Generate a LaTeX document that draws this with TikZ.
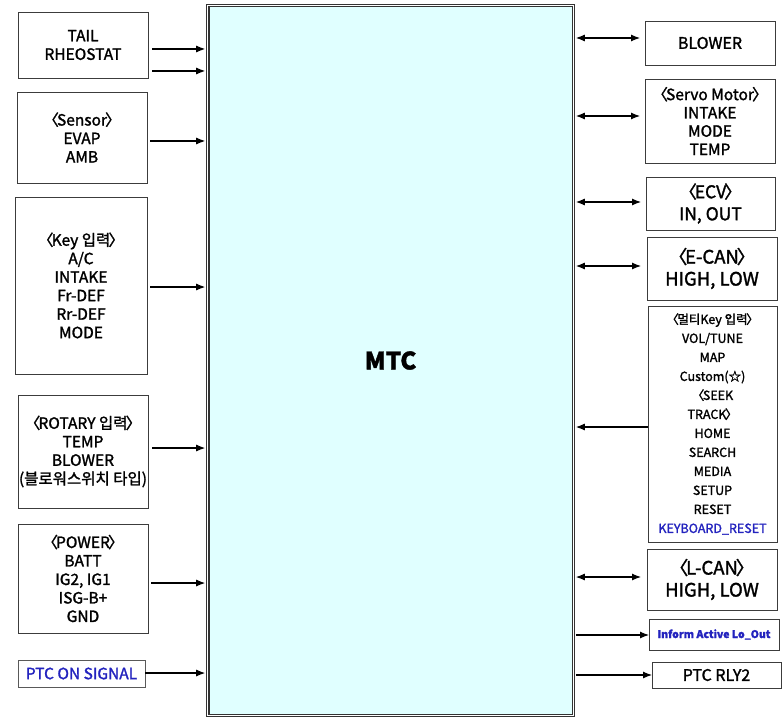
\documentclass[tikz,border=0pt]{standalone}
\usepackage{fontspec}
\setmainfont{Noto Sans CJK KR}[FakeBold=1.6]
\usetikzlibrary{arrows.meta}
\definecolor{mtcfill}{RGB}{224,255,255}
\definecolor{sigblue}{RGB}{35,35,190}
\definecolor{boxline}{RGB}{60,60,60}
\newcommand\lab{〈\kern-0.12em}
\newcommand\rab{\kern-0.12em〉}
\begin{document}
\begin{tikzpicture}[x=1pt,y=-1pt,
  bx/.style={draw=boxline,line width=0.9pt,inner sep=0pt,outer sep=0pt,align=center},
  lt/.style={font=\fontsize{15.5}{18.5}\selectfont},
  arr/.style={line width=1.1pt,-{Latex[length=9pt,width=7pt]}},
  darr/.style={line width=1.1pt,{Latex[length=9pt,width=7pt]}-{Latex[length=9pt,width=7pt]}}]
\useasboundingbox (0,0) rectangle (783,719);
\node[draw=black!80,line width=1.1pt,double=white,double distance=1.3pt,fill=mtcfill,
  minimum width=365.5pt,minimum height=709.5pt,inner sep=0pt,
  font=\fontsize{24}{28}\selectfont\bfseries] (mtc) at (390.5,360.5) {MTC};
% left boxes
\node[bx,lt,minimum width=130pt,minimum height=66pt] (tail) at (83,45) {TAIL\\RHEOSTAT};
\node[bx,lt,minimum width=130pt,minimum height=91pt] (sensor) at (82,137.5) {\lab Sensor\rab\\EVAP\\AMB};
\node[bx,lt,minimum width=132pt,minimum height=177pt] (key) at (81,285.5) {\lab Key 입력\rab\\A/C\\INTAKE\\Fr-DEF\\Rr-DEF\\MODE};
\node[bx,lt,minimum width=130pt,minimum height=113pt] (rotary) at (83,451.5) {\lab ROTARY 입력\rab\\TEMP\\BLOWER\\(블로워스위치 타입)};
\node[bx,lt,minimum width=130pt,minimum height=109pt] (power) at (83,578.5) {\lab POWER\rab\\BATT\\IG2, IG1\\ISG-B+\\GND};
\node[bx,lt,draw=black!65,text=sigblue,minimum width=127pt,minimum height=27pt] (ptcon) at (81.5,673.5) {PTC ON SIGNAL};
% right boxes
\node[bx,font=\fontsize{16}{19}\selectfont,minimum width=130pt,minimum height=44pt] (blower) at (710,43) {BLOWER};
\node[bx,font=\fontsize{15.5}{18.3}\selectfont,minimum width=130pt,minimum height=84pt] (servo) at (710,121) {\lab Servo Motor\rab\\INTAKE\\MODE\\TEMP};
\node[bx,font=\fontsize{17.5}{22}\selectfont,minimum width=129pt,minimum height=53pt] (ecv) at (710.5,203.5) {\lab ECV\rab\\IN, OUT};
\node[bx,font=\fontsize{18.5}{22}\selectfont,minimum width=130pt,minimum height=63pt] (ecan) at (712,268.5) {\lab E-CAN\rab\\HIGH, LOW};
\node[bx,font=\fontsize{12.5}{19}\selectfont,minimum width=129pt,minimum height=236pt] (multi) at (712.5,424) {\lab 멀티Key 입력\rab\\VOL/TUNE\\MAP\\Custom(☆)\\\lab SEEK\\TRACK\rab\\HOME\\SEARCH\\MEDIA\\SETUP\\RESET\\\textcolor{sigblue}{KEYBOARD\_RESET}};
\node[bx,font=\fontsize{18.5}{22}\selectfont,minimum width=130pt,minimum height=61pt] (lcan) at (712,579.5) {\lab L-CAN\rab\\HIGH, LOW};
\node[bx,font=\fontsize{10.5}{12}\selectfont\bfseries,text=sigblue,minimum width=130pt,minimum height=31pt] (inform) at (714,634.5) {Inform Active Lo\_Out};
\node[bx,font=\fontsize{16}{19}\selectfont,minimum width=129pt,minimum height=26pt] (ptcrly) at (716.5,675) {PTC RLY2};
% left arrows
\draw[arr,shorten <=4pt,shorten >=2pt] (tail.east |- 0,49) -- (mtc.west |- 0,49);
\draw[arr,shorten <=4pt,shorten >=2pt] (tail.east |- 0,71) -- (mtc.west |- 0,71);
\draw[arr,shorten <=3pt,shorten >=2pt] (sensor.east |- 0,141) -- (mtc.west |- 0,141);
\draw[arr,shorten <=3pt,shorten >=2pt] (key.east |- 0,287) -- (mtc.west |- 0,287);
\draw[arr,shorten <=4pt,shorten >=2pt] (rotary.east |- 0,448) -- (mtc.west |- 0,448);
\draw[arr,shorten <=3pt,shorten >=2pt] (power.east |- 0,583) -- (mtc.west |- 0,583);
\draw[arr,shorten >=2pt] (ptcon.east |- 0,673) -- (mtc.west |- 0,673);
% right arrows
\draw[darr,shorten <=2pt,shorten >=5pt] (mtc.east |- 0,38) -- (blower.west |- 0,38);
\draw[darr,shorten <=2pt,shorten >=5pt] (mtc.east |- 0,116) -- (servo.west |- 0,116);
\draw[darr,shorten <=2pt,shorten >=5pt] (mtc.east |- 0,202) -- (ecv.west |- 0,202);
\draw[darr,shorten <=2pt,shorten >=6pt] (mtc.east |- 0,266) -- (ecan.west |- 0,266);
\draw[arr,shorten >=2pt] (multi.west |- 0,427) -- (mtc.east |- 0,427);
\draw[darr,shorten <=2pt,shorten >=6pt] (mtc.east |- 0,577) -- (lcan.west |- 0,577);
\draw[arr,shorten <=2pt] (mtc.east |- 0,635) -- (inform.west |- 0,635);
\draw[arr,shorten <=2pt] (mtc.east |- 0,675) -- (ptcrly.west |- 0,675);
\end{tikzpicture}
\end{document}
